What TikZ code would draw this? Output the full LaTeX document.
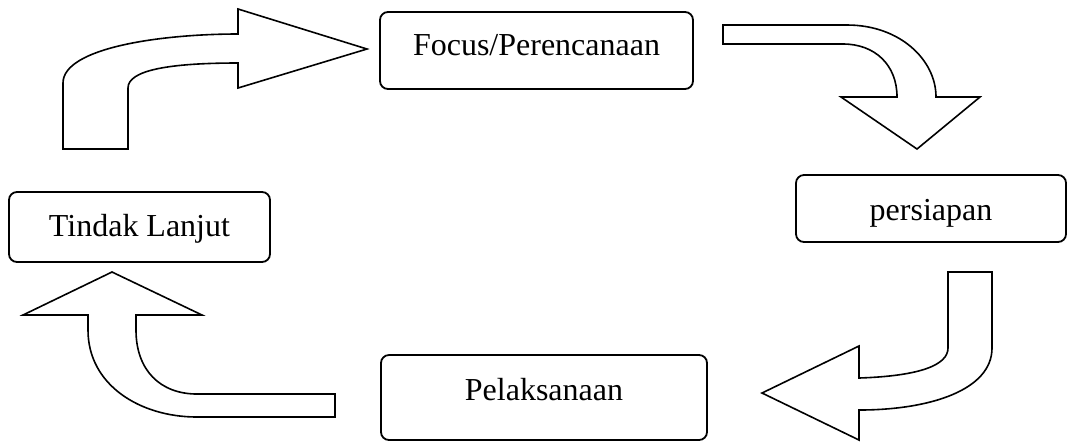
\documentclass[tikz,border=0pt]{standalone}
\usepackage{fontspec}
\setmainfont{Liberation Serif}
\usetikzlibrary{positioning}
\definecolor{CycleInk}{HTML}{000000}
\tikzset{
  stagebox/.style={draw=CycleInk, rounded corners=4pt, fill=white,
                   line width=0.9pt, align=center, inner sep=0pt,
                   font=\fontsize{16}{19}\selectfont, text height=12pt},
  bentarrow/.style={draw=CycleInk, fill=white, line width=0.8pt,
                    line join=miter},
}
\begin{document}
\begin{tikzpicture}[x=0.5pt, y=-0.5pt]

  \useasboundingbox (0,0) rectangle (1068,441);

  \node[stagebox, minimum width=156.5pt, minimum height=38.5pt, text depth=7.5pt]
    (focus) at (536.5,50.5) {Focus/Perencanaan};
  \node[stagebox, minimum width=135pt, minimum height=33.5pt, text depth=0.5pt]
    (persiapan) at (931,208.5) {persiapan};
  \node[stagebox, minimum width=163pt, minimum height=42.5pt, text depth=9.5pt]
    (pelaksanaan) at (544,397.5) {Pelaksanaan};
  \node[stagebox, minimum width=130.5pt, minimum height=35pt, text depth=3pt]
    (tindak) at (139.5,227) {Tindak Lanjut};

  % up and over into the first stage
  \draw[bentarrow] (63,149) -- (63,83) .. controls (63,48) and (160,34) .. (238,34)
    -- (238,9) -- (367,49) -- (238,88) -- (238,63)
    .. controls (170,63) and (128,70) .. (128,88) -- (128,149) -- cycle;

  % across and down
  \draw[bentarrow] (723,25) -- (847,25) .. controls (900,25) and (936,60) .. (936,97)
    -- (980,97) -- (917,149) -- (841,97) -- (897,97)
    .. controls (897,65) and (875,44) .. (843,44) -- (723,44) -- cycle;

  % down and back to the left
  \draw[bentarrow] (948,272) -- (992,272) -- (992,348)
    .. controls (992,390) and (930,410) .. (859,410)
    -- (859,440) -- (762,393) -- (859,346) -- (859,378)
    .. controls (920,376) and (948,365) .. (948,348) -- cycle;

  % left and up to the last stage
  \draw[bentarrow] (335,394) -- (335,417) -- (197,417)
    .. controls (140,417) and (88,385) .. (88,330) -- (88,315)
    -- (23,315) -- (112,272) -- (202,315) -- (136,315) -- (136,330)
    .. controls (136,370) and (160,394) .. (197,394) -- cycle;

\end{tikzpicture}
\end{document}
